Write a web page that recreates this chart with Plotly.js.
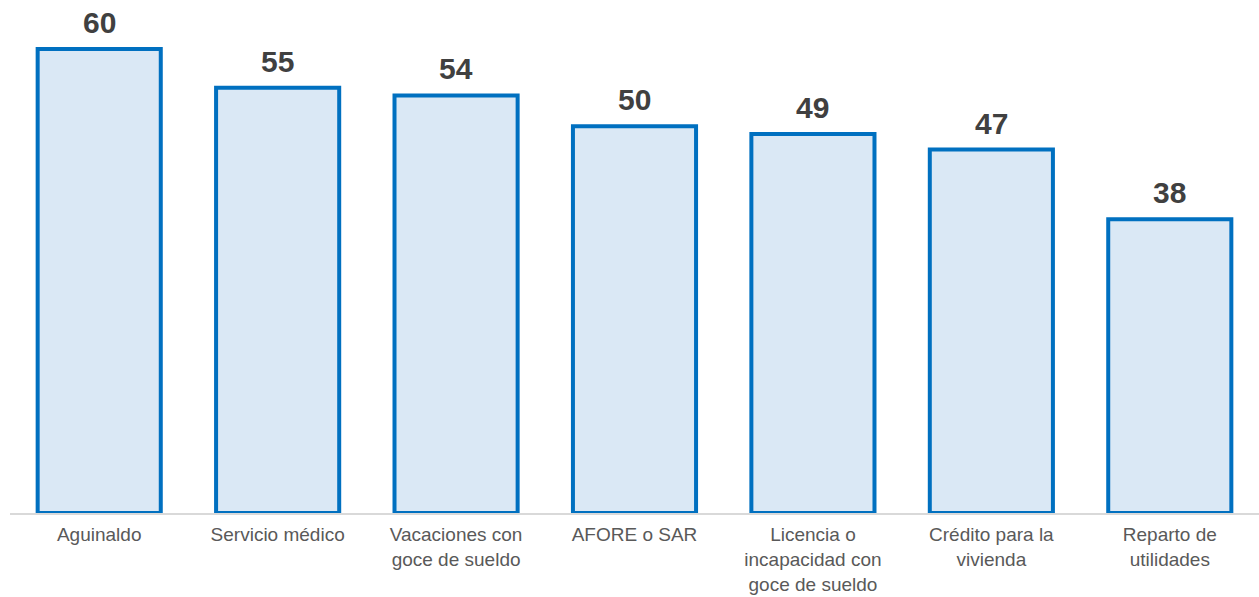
<!DOCTYPE html>
<html>
<head>
<meta charset="utf-8">
<script src="https://cdn.plot.ly/plotly-3.0.1.min.js"></script>
<style>html,body{margin:0;padding:0;background:#fff;}#chart{width:1259px;height:597px;}</style>
</head>
<body>
<div id="chart"></div>
<script>
const categories = ["Aguinaldo", "Servicio médico", "Vacaciones con<br>goce de sueldo", "AFORE o SAR", "Licencia o<br>incapacidad con<br>goce de sueldo", "Crédito para la<br>vivienda", "Reparto de<br>utilidades"];
const values = [60, 55, 54, 50, 49, 47, 38];

const trace = {
  type: 'bar',
  x: categories,
  y: values,
  marker: {color: '#DAE8F5', line: {color: '#0070C0', width: 4}},
  hoverinfo: 'none'
};

const annotations = categories.map((c, i) => ({
  x: c, y: values[i], xref: 'x', yref: 'y',
  text: String(values[i]), showarrow: false,
  yanchor: 'bottom', yshift: 8,
  font: {family: 'Liberation Sans, Arial, sans-serif', size: 30, color: '#404040', weight: 'bold'}
}));

const layout = {
  width: 1259, height: 597,
  margin: {l: 10, r: 0, t: 0, b: 84},
  paper_bgcolor: '#ffffff', plot_bgcolor: '#ffffff',
  bargap: 0.31,
  showlegend: false,
  font: {family: 'Liberation Sans, Arial, sans-serif'},
  xaxis: {
    showline: true, linecolor: '#D9D9D9', linewidth: 1.5,
    ticks: '', showgrid: false, zeroline: false,
    tickfont: {size: 19, color: '#595959'},
    ticklabelstandoff: 4,
    automargin: false
  },
  yaxis: {
    range: [0, 66.34], visible: false, showgrid: false, zeroline: false
  },
  annotations: annotations
};

Plotly.newPlot('chart', [trace], layout, {displayModeBar: false, staticPlot: true});
</script>
</body>
</html>
